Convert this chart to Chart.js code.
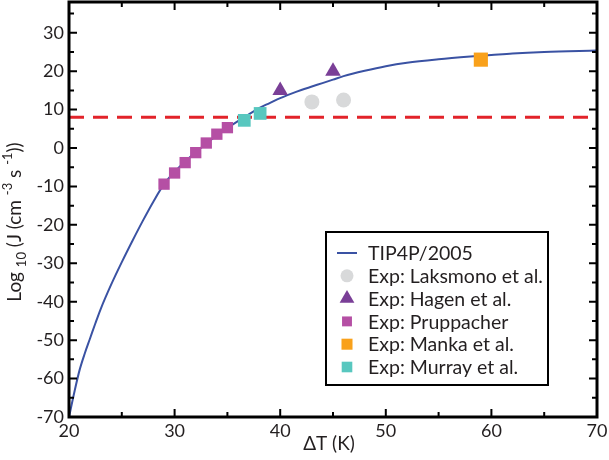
<!DOCTYPE html>
<html>
<head>
<meta charset="utf-8">
<script src="https://cdn.jsdelivr.net/npm/chart.js@4.4.1/dist/chart.umd.min.js"></script>
<style>
  html, body { margin: 0; padding: 0; background: #fff; }
  #wrap { width: 609px; height: 460px; }
</style>
</head>
<body>
<div id="wrap"><canvas id="chart" width="609" height="460"></canvas></div>
<script>
// TIP4P/2005 curve
const curveX = [20, 20.5, 21, 21.5, 22, 22.5, 23, 24, 25, 26, 27, 28, 29, 30, 31, 32, 33, 34, 35, 36, 37, 38, 39, 40, 41, 42, 43, 44, 45, 46, 48, 50, 52, 55, 58, 60, 62, 65, 70];
const curveY = [-70, -63.6, -57.8, -53.4, -49.5, -45.6, -41.9, -35.5, -29.7, -24.2, -18.9, -13.9, -9.4, -6.2, -3.5, -1.1, 1.2, 3.3, 5.2, 7.0, 8.7, 10.4, 11.7, 13.0, 14.1, 15.1, 16.0, 16.9, 17.8, 18.7, 20.1, 21.3, 22.2, 23.1, 23.8, 24.2, 24.6, 25.0, 25.4];

// experiments
const laksmonoX = [43, 46];
const laksmonoY = [12.0, 12.5];
const hagenX = [40, 45];
const hagenY = [15.0, 20.0];
const pruppacherX = [29, 30, 31, 32, 33, 34, 35];
const pruppacherY = [-9.4, -6.5, -3.8, -1.2, 1.3, 3.6, 5.3];
const mankaX = [59];
const mankaY = [23.0];
const murrayX = [36.6, 38.1];
const murrayY = [7.2, 9.0];

// dashed reference level
const refX = [20, 70];
const refY = [8, 8];

const xTicks = [20, 30, 40, 50, 60, 70];
const yTicks = [-70, -60, -50, -40, -30, -20, -10, 0, 10, 20, 30];

const FONT = 'Lato';
const INK = '#231f20';

function pts(xs, ys) {
  return xs.map((x, i) => ({ x: x, y: ys[i] }));
}

// frame with inward ticks on all four sides, axis titles, legend box
const decorations = {
  id: 'decorations',
  afterDraw(chart) {
    const ctx = chart.ctx;
    const a = chart.chartArea;
    const xs = chart.scales.x, ys = chart.scales.y;
    ctx.save();
    ctx.strokeStyle = '#000';
    ctx.lineWidth = 2;
    xs.ticks.forEach(t => {
      const px = xs.getPixelForValue(t.value);
      const len = xTicks.includes(t.value) ? 8 : 5;
      ctx.beginPath();
      ctx.moveTo(px, a.bottom); ctx.lineTo(px, a.bottom - len);
      ctx.moveTo(px, a.top); ctx.lineTo(px, a.top + len);
      ctx.stroke();
    });
    ys.ticks.forEach(t => {
      const py = ys.getPixelForValue(t.value);
      const len = yTicks.includes(t.value) ? 8 : 5;
      ctx.beginPath();
      ctx.moveTo(a.left, py); ctx.lineTo(a.left + len, py);
      ctx.moveTo(a.right, py); ctx.lineTo(a.right - len, py);
      ctx.stroke();
    });
    ctx.lineWidth = 3;
    ctx.strokeRect(a.left, a.top, a.right - a.left, a.bottom - a.top);

    // x title
    ctx.fillStyle = INK;
    ctx.font = '19px ' + FONT;
    ctx.textAlign = 'center';
    ctx.textBaseline = 'alphabetic';
    ctx.fillText('\u0394T (K)', 329, 450);

    // y title with sub/superscripts
    const parts = [
      ['Log ', 0, 19], ['10', 5, 13], [' (J (cm ', 0, 19], ['-3', -9, 13],
      [' s ', 0, 19], ['-1', -9, 13], ['))', 0, 19]
    ];
    let total = 0;
    parts.forEach(p => { ctx.font = p[2] + 'px ' + FONT; total += ctx.measureText(p[0]).width; });
    ctx.save();
    ctx.translate(21, 222);
    ctx.rotate(-Math.PI / 2);
    ctx.textAlign = 'left';
    let cx = -total / 2;
    parts.forEach(p => {
      ctx.font = p[2] + 'px ' + FONT;
      ctx.fillText(p[0], cx, p[1]);
      cx += ctx.measureText(p[0]).width;
    });
    ctx.restore();

    // legend
    const bx = 326, by = 232, bw = 222, bh = 153;
    ctx.fillStyle = '#fff';
    ctx.fillRect(bx, by, bw, bh);
    ctx.lineWidth = 2;
    ctx.strokeStyle = '#000';
    ctx.strokeRect(bx, by, bw, bh);
    const items = chart.data.datasets.filter(d => d.legendRow !== undefined)
      .sort((p, q) => p.legendRow - q.legendRow);
    items.forEach((d, i) => {
      const rowY = 253 + i * 22.8;
      const sx = 347;
      if (d.showLine) {
        ctx.strokeStyle = d.borderColor;
        ctx.lineWidth = 2;
        ctx.beginPath();
        ctx.moveTo(sx - 10, rowY); ctx.lineTo(sx + 10, rowY);
        ctx.stroke();
      } else {
        ctx.fillStyle = d.backgroundColor;
        Chart.helpers.drawPoint(ctx, { pointStyle: d.pointStyle, radius: d.legendRadius, rotation: 0, borderWidth: 0 }, sx, rowY);
      }
      ctx.fillStyle = INK;
      ctx.font = '19.5px ' + FONT;
      ctx.textAlign = 'left';
      ctx.textBaseline = 'middle';
      ctx.fillText(d.label, 368, rowY + 1);
    });
    ctx.restore();
  }
};

new Chart(document.getElementById('chart'), {
  type: 'scatter',
  data: {
    datasets: [
      {
        label: 'Exp: Laksmono et al.',
        data: pts(laksmonoX, laksmonoY),
        pointStyle: 'circle', pointRadius: 7.5, legendRadius: 6.5,
        backgroundColor: '#d8d9da', borderWidth: 0, order: 1, legendRow: 1
      },
      {
        label: 'Exp: Hagen et al.',
        data: pts(hagenX, hagenY),
        pointStyle: 'triangle', pointRadius: 9, legendRadius: 8.5,
        backgroundColor: '#7a3f97', borderWidth: 0, order: 1, legendRow: 2
      },
      {
        label: 'Exp: Pruppacher',
        data: pts(pruppacherX, pruppacherY),
        pointStyle: 'rect', pointRadius: 8, legendRadius: 7,
        backgroundColor: '#b54fa4', borderWidth: 0, order: 1, legendRow: 3
      },
      {
        label: 'Exp: Manka et al.',
        data: pts(mankaX, mankaY),
        pointStyle: 'rect', pointRadius: 10, legendRadius: 7.8,
        backgroundColor: '#f9a11b', borderWidth: 0, order: 1, legendRow: 4
      },
      {
        label: 'Exp: Murray et al.',
        data: pts(murrayX, murrayY),
        pointStyle: 'rect', pointRadius: 9, legendRadius: 7.5,
        backgroundColor: '#58c7bf', borderWidth: 0, order: 1, legendRow: 5
      },
      {
        label: 'TIP4P/2005',
        data: pts(curveX, curveY),
        showLine: true, borderColor: '#3a52a3', borderWidth: 2,
        pointRadius: 0, cubicInterpolationMode: 'monotone', order: 5, legendRow: 0
      },
      {
        label: 'ref',
        data: pts(refX, refY),
        showLine: true, borderColor: '#e2232a', borderWidth: 3,
        borderDash: [15, 9], pointRadius: 0, order: 6
      }
    ]
  },
  options: {
    responsive: false,
    animation: false,
    layout: { padding: { top: 2, right: 12, bottom: 0, left: 0 }, autoPadding: false },
    plugins: { legend: { display: false }, tooltip: { enabled: false } },
    scales: {
      x: {
        type: 'linear', min: 20, max: 70,
        grid: { display: false, drawTicks: false },
        border: { display: false },
        ticks: {
          stepSize: 5, autoSkip: false, maxRotation: 0, padding: 3,
          color: INK, font: { family: FONT, size: 18 },
          callback: v => xTicks.includes(v) ? String(v) : ''
        },
        afterFit: s => { s.height = 43; s.paddingLeft = 0; s.paddingRight = 0; }
      },
      y: {
        type: 'linear', min: -70, max: 38,
        grid: { display: false, drawTicks: false },
        border: { display: false },
        ticks: {
          stepSize: 5, autoSkip: false, includeBounds: false, padding: 5,
          color: INK, font: { family: FONT, size: 18 },
          callback: v => yTicks.includes(v) ? String(v) : ''
        },
        afterFit: s => { s.width = 69; s.paddingTop = 0; s.paddingBottom = 0; }
      }
    }
  },
  plugins: [decorations]
});
</script>
</body>
</html>
